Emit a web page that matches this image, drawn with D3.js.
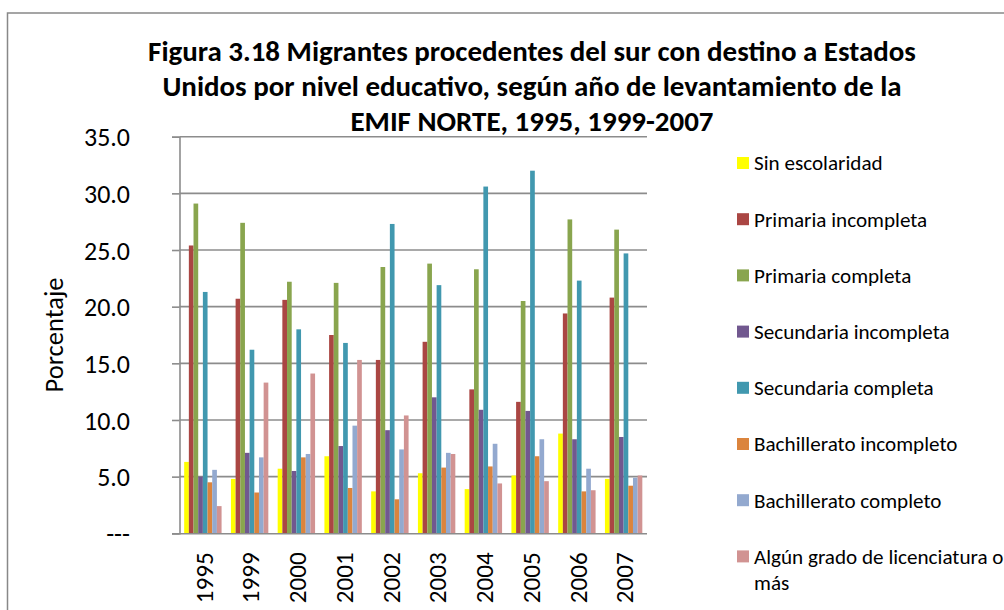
<!DOCTYPE html>
<html>
<head>
<meta charset="utf-8">
<script src="https://cdn.jsdelivr.net/npm/d3@7"></script>
<style>
  body { margin: 0; background: #fff; }
  svg { display: block; }
  text { font-family: Carlito, Calibri, Lato, "Liberation Sans", sans-serif; fill: #000; }
</style>
</head>
<body>
<svg id="chart" width="1004" height="610"></svg>
<script>
// Survey years (categories)
const years = ["1995", "1999", "2000", "2001", "2002", "2003", "2004", "2005", "2006", "2007"];

// Education levels (series), in legend order
const seriesNames = [
  "Sin escolaridad",
  "Primaria incompleta",
  "Primaria completa",
  "Secundaria incompleta",
  "Secundaria completa",
  "Bachillerato incompleto",
  "Bachillerato completo",
  "Algún grado de licenciatura o más"
];
const seriesColors = ["#FFFF00", "#AA4643", "#89A54E", "#71588F", "#4198AF", "#DB843D", "#93A9CF", "#D19392"];

// Percentages per year for each level
const sinEscolaridad         = [6.3, 4.8, 5.7, 6.8, 3.7, 5.3, 3.9, 5.1, 8.8, 4.8];
const primariaIncompleta     = [25.4, 20.7, 20.6, 17.5, 15.3, 16.9, 12.7, 11.6, 19.4, 20.8];
const primariaCompleta       = [29.1, 27.4, 22.2, 22.1, 23.5, 23.8, 23.3, 20.5, 27.7, 26.8];
const secundariaIncompleta   = [5.0, 7.1, 5.5, 7.7, 9.1, 12.0, 10.9, 10.8, 8.3, 8.5];
const secundariaCompleta     = [21.3, 16.2, 18.0, 16.8, 27.3, 21.9, 30.6, 32.0, 22.3, 24.7];
const bachilleratoIncompleto = [4.5, 3.6, 6.7, 4.0, 3.0, 5.8, 5.9, 6.8, 3.7, 4.2];
const bachilleratoCompleto   = [5.6, 6.7, 7.0, 9.5, 7.4, 7.1, 7.9, 8.3, 5.7, 4.9];
const licenciatura           = [2.4, 13.3, 14.1, 15.3, 10.4, 7.0, 4.4, 4.6, 3.8, 5.1];

const seriesValues = [
  sinEscolaridad, primariaIncompleta, primariaCompleta, secundariaIncompleta,
  secundariaCompleta, bachilleratoIncompleto, bachilleratoCompleto, licenciatura
];

// Y axis tick values and labels
const yTicks = [0, 5, 10, 15, 20, 25, 30, 35];
const yTickLabels = ["---", "5.0", "10.0", "15.0", "20.0", "25.0", "30.0", "35.0"];

const titleLines = [
  "Figura 3.18 Migrantes procedentes del sur con destino a Estados",
  "Unidos por nivel educativo, según año de levantamiento de la",
  "EMIF NORTE, 1995, 1999-2007"
];

const svg = d3.select("#chart");

// Scale a text element's font size so its rendered width equals w
function fitWidth(node, w) {
  const cur = node.getComputedTextLength();
  const fs = parseFloat(getComputedStyle(node).fontSize);
  node.style.fontSize = (fs * w / cur) + "px";
  return fs * w / cur;
}

// Outer chart frame
svg.append("rect")
  .attr("x", 7.5).attr("y", 13)
  .attr("width", 1010).attr("height", 610)
  .attr("fill", "#fff")
  .attr("stroke", "#888").attr("stroke-width", 1.5);

// Plot area
const plot = { left: 179.5, right: 647, top: 136.7, bottom: 533.3 };

const x0 = d3.scaleBand()
  .domain(years)
  .range([plot.left, plot.right])
  .paddingInner(0.2)
  .paddingOuter(0.1);

const x1 = d3.scaleBand()
  .domain(d3.range(seriesNames.length))
  .range([0, x0.bandwidth()]);

const y = d3.scaleLinear().domain([0, 35]).range([plot.bottom, plot.top]);

// Horizontal gridlines
svg.append("g")
  .selectAll("line")
  .data(yTicks.filter(d => d > 0))
  .join("line")
  .attr("x1", plot.left).attr("x2", plot.right)
  .attr("y1", d => y(d)).attr("y2", d => y(d))
  .attr("stroke", "#8c8c8c").attr("stroke-width", 1.6);

// Bars
const groups = svg.append("g")
  .selectAll("g")
  .data(years)
  .join("g")
  .attr("transform", d => `translate(${x0(d)},0)`);

groups.selectAll("rect")
  .data((yr, i) => seriesValues.map((vals, s) => ({ s, v: vals[i] })))
  .join("rect")
  .attr("x", d => x1(d.s))
  .attr("width", x1.bandwidth())
  .attr("y", d => y(d.v))
  .attr("height", d => y(0) - y(d.v))
  .attr("fill", d => seriesColors[d.s]);

// Y axis
const yAxis = d3.axisLeft(y)
  .tickValues(yTicks)
  .tickSize(7.5)
  .tickPadding(42)
  .tickFormat((d, i) => yTickLabels[i]);

const yAxisG = svg.append("g")
  .attr("transform", `translate(${plot.left},0)`)
  .call(yAxis);
yAxisG.select(".domain").attr("stroke", "#8c8c8c").attr("stroke-width", 1.6);
yAxisG.selectAll(".tick line").attr("stroke", "#8c8c8c").attr("stroke-width", 1.6);
yAxisG.selectAll(".tick text")
  .attr("fill", "#000")
  .style("font-family", null)
  .style("font-size", "26px");
// size ticks so "30.0" spans its measured width
{
  const ref = yAxisG.selectAll(".tick text").filter(d => d === 30).node();
  const fs = fitWidth(ref, 46);
  yAxisG.selectAll(".tick text").style("font-size", fs + "px").attr("dy", "0.35em");
}
yAxisG.attr("font-family", null).attr("font-size", null);

// X axis baseline
const xAxis = d3.axisBottom(x0).tickSize(0).tickPadding(0);
const xAxisG = svg.append("g")
  .attr("transform", `translate(0,${plot.bottom})`)
  .call(xAxis);
xAxisG.attr("font-family", null).attr("font-size", null);
xAxisG.select(".domain")
  .attr("stroke", "#8c8c8c").attr("stroke-width", 1.6)
  .attr("d", `M${plot.left - 7.5},0.5H${plot.right}`);
xAxisG.selectAll(".tick text")
  .attr("fill", "#000")
  .attr("transform", "rotate(-90)")
  .attr("x", -19)
  .attr("y", 1)
  .attr("dy", "0.35em")
  .attr("text-anchor", "end")
  .style("font-size", "26px");
{
  const ref = xAxisG.select(".tick text").node();
  const fs = fitWidth(ref, 51);
  xAxisG.selectAll(".tick text").style("font-size", fs + "px");
}

// Y axis title
const yTitle = svg.append("text")
  .attr("transform", "translate(63,335) rotate(-90)")
  .attr("text-anchor", "middle")
  .style("font-size", "26px")
  .text("Porcentaje");
fitWidth(yTitle.node(), 115);

// Title
const title = svg.append("g");
const t1 = title.append("text")
  .attr("x", 532).attr("y", 61)
  .attr("text-anchor", "middle")
  .attr("font-weight", "bold")
  .style("font-size", "26px")
  .text(titleLines[0]);
const titleSize = fitWidth(t1.node(), 768);
titleLines.slice(1).forEach((line, i) => {
  title.append("text")
    .attr("x", 532).attr("y", 96 + i * 35)
    .attr("text-anchor", "middle")
    .attr("font-weight", "bold")
    .style("font-size", titleSize + "px")
    .text(line);
});

// Legend
const legend = svg.append("g").attr("transform", "translate(737,163)");
const legendItems = legend.selectAll("g")
  .data(seriesNames)
  .join("g")
  .attr("transform", (d, i) => `translate(0,${i * 56.2})`);

legendItems.append("rect")
  .attr("x", 0).attr("y", -6)
  .attr("width", 12).attr("height", 12)
  .attr("fill", (d, i) => seriesColors[i]);

const legendTexts = legendItems.append("text")
  .attr("x", 17)
  .attr("dy", "0.35em")
  .style("font-size", "21px");

legendTexts.each(function (d, i) {
  const t = d3.select(this);
  if (i === seriesNames.length - 1) {
    t.append("tspan").attr("x", 17).text("Algún grado de licenciatura o");
    t.append("tspan").attr("x", 17).attr("dy", "1.22em").text("más");
  } else {
    t.text(d);
  }
});
{
  const fs = fitWidth(legendTexts.nodes()[0], 128.7);
  legendTexts.style("font-size", fs + "px");
}
</script>
</body>
</html>
